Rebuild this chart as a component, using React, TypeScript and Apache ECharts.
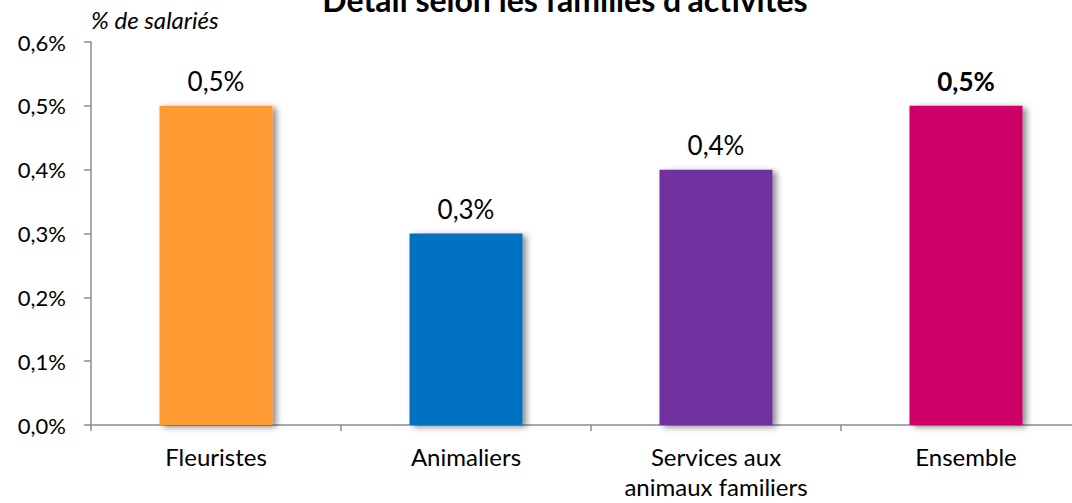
import React, { useEffect, useRef } from "react";
import * as echarts from "echarts";

const categories = ["Fleuristes", "Animaliers", "Services aux\nanimaux familiers", "Ensemble"];
const values = [0.5, 0.3, 0.4, 0.5];
const colors = ["#FF9933", "#0070C0", "#7030A0", "#CC0066"];
const boldLabel = [false, false, false, true];
const title = "Détail selon les familles d'activités";
const yAxisName = "% de salariés";

const FONT = "Lato, 'Noto Sans', sans-serif";
const fmt = (v: number) => v.toFixed(1).replace(".", ",") + "%";

export default function App() {
  const ref = useRef<HTMLDivElement>(null);
  useEffect(() => {
    if (!ref.current) return;
    const chart = echarts.init(ref.current, undefined, { renderer: "svg" });
    chart.setOption({
      animation: false,
      backgroundColor: "#ffffff",
      textStyle: { fontFamily: FONT },
      title: {
        text: title,
        left: 560,
        textAlign: "center",
        top: -22,
        textStyle: { fontFamily: FONT, fontSize: 32, fontWeight: "bold", color: "#000" },
      },
      graphic: [
        {
          type: "text",
          left: 91,
          top: 7,
          style: { text: yAxisName, fontFamily: FONT, fontSize: 24, fontStyle: "italic", fill: "#000" },
        },
      ],
      grid: { left: 91, right: 9, top: 42, bottom: 78, containLabel: false },
      xAxis: {
        type: "category",
        data: categories,
        axisLine: { lineStyle: { color: "#8c8c8c", width: 1.5 } },
        axisTick: { show: true, length: 6, lineStyle: { color: "#8c8c8c", width: 1.5 } },
        axisLabel: { color: "#000", fontSize: 24, fontFamily: FONT, margin: 16, lineHeight: 30 },
      },
      yAxis: {
        type: "value",
        min: 0,
        max: 0.6,
        interval: 0.1,
        axisLine: { show: true, lineStyle: { color: "#8c8c8c", width: 1.5 } },
        axisTick: { show: true, length: 7, lineStyle: { color: "#8c8c8c", width: 1.5 } },
        splitLine: { show: false },
        axisLabel: { color: "#000", fontSize: 22, fontFamily: FONT, margin: 25, formatter: (v: number) => fmt(v) },
      },
      series: [
        {
          type: "bar",
          barWidth: 113,
          data: values.map((v, i) => ({
            value: v,
            itemStyle: {
              color: colors[i],
              shadowColor: "rgba(0,0,0,0.45)",
              shadowBlur: 6,
              shadowOffsetX: 4,
              shadowOffsetY: 2,
            },
            label: { fontWeight: boldLabel[i] ? "bold" : "normal" },
          })),
          label: {
            show: true,
            position: "top",
            distance: 12,
            fontSize: 26,
            fontFamily: FONT,
            color: "#000",
            formatter: (p: any) => fmt(p.value),
          },
        },
      ],
    });
    return () => chart.dispose();
  }, []);
  return (
    <div style={{ position: "fixed", left: 0, top: 0, width: 1072, height: 503, overflow: "hidden", background: "#fff" }}>
      <div ref={ref} style={{ width: 1100, height: 503 }} />
    </div>
  );
}
